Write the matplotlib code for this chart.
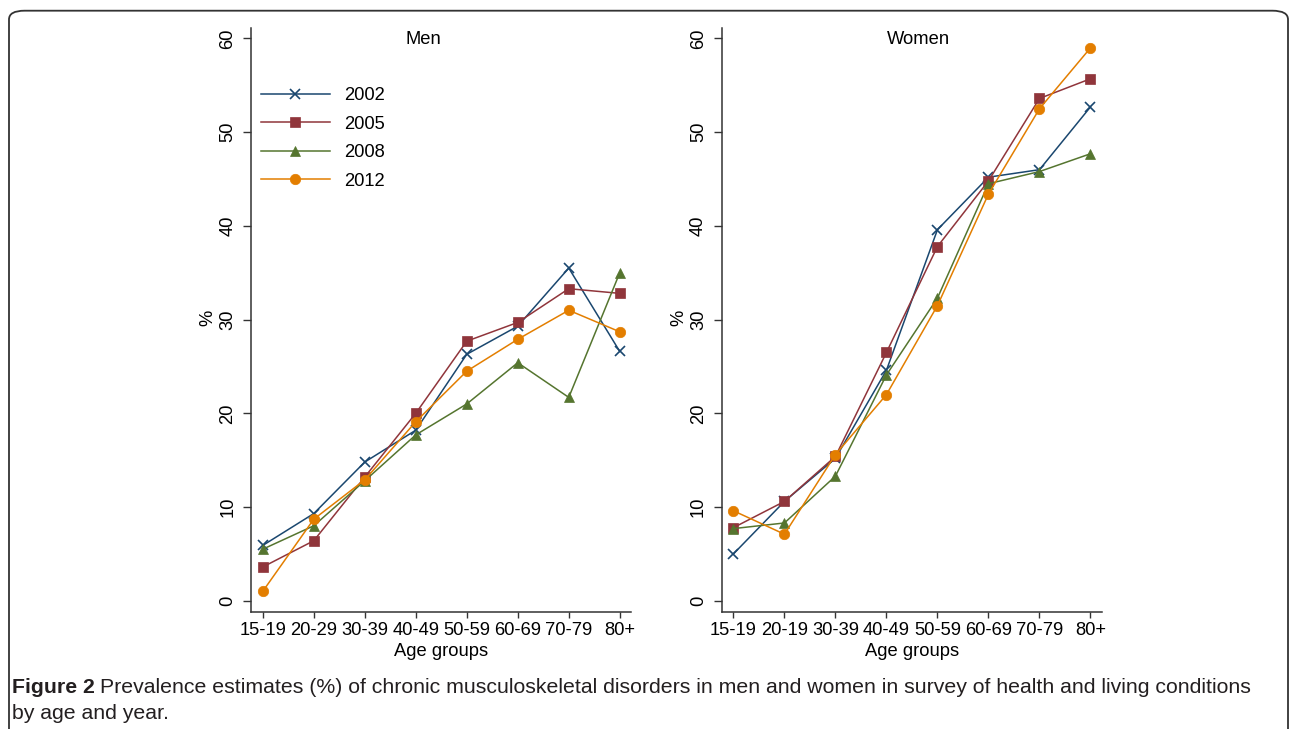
import matplotlib
matplotlib.use("Agg")
import matplotlib.pyplot as plt
from matplotlib.patches import FancyBboxPatch

plt.rcParams['font.family'] = ['Liberation Sans', 'DejaVu Sans']

# age groups (the women panel really says "20-19" in the original)
men_groups = ['15-19', '20-29', '30-39', '40-49', '50-59', '60-69', '70-79', '80+']
women_groups = ['15-19', '20-19', '30-39', '40-49', '50-59', '60-69', '70-79', '80+']
years = ['2002', '2005', '2008', '2012']

# prevalence (%)
men_2002 = [5.9, 9.3, 14.8, 18.2, 26.3, 29.3, 35.5, 26.6]
men_2005 = [3.6, 6.4, 13.2, 20.0, 27.7, 29.7, 33.3, 32.8]
men_2008 = [5.5, 8.0, 12.8, 17.7, 21.0, 25.4, 21.7, 35.0]
men_2012 = [1.0, 8.7, 12.9, 19.1, 24.5, 27.9, 31.0, 28.7]

women_2002 = [5.0, 10.6, 15.2, 24.6, 39.6, 45.2, 46.0, 52.7]
women_2005 = [7.8, 10.6, 15.4, 26.5, 37.8, 44.8, 53.6, 55.7]
women_2008 = [7.7, 8.3, 13.3, 24.1, 32.3, 44.5, 45.8, 47.7]
women_2012 = [9.6, 7.1, 15.6, 22.0, 31.5, 43.4, 52.5, 59.0]

colors = ['#1a476f', '#90353b', '#55752f', '#e37e00']
markers = ['x', 's', '^', 'o']
msizes = [7, 7, 7.5, 7.5]
FS = 13.2

W, H = 1292, 729
fig = plt.figure(figsize=(W / 100, H / 100), dpi=100)

# rounded frame around the whole figure (bottom edge runs off the image)
frame = FancyBboxPatch((9 / W, -0.05), (1288 - 9) / W, 1.05 - 10.7 / H,
                       boxstyle="round,pad=0,rounding_size=0.012",
                       transform=fig.transFigure, fill=False,
                       edgecolor='#333333', linewidth=1.3)
fig.patches.append(frame)


def panel(left, groups, series, title, title_x):
    ax = fig.add_axes([left / W, (H - 612) / H, 380 / W, (612 - 27.7) / H])
    x = list(range(len(groups)))
    lines = []
    for vals, c, m, ms, yr in zip(series, colors, markers, msizes, years):
        ln, = ax.plot(x, vals, color=c, marker=m, markersize=ms, lw=1.1,
                      markeredgewidth=1.2 if m == 'x' else 0.5,
                      markeredgecolor=c, label=yr, clip_on=False)
        lines.append(ln)
    ax.set_xlim(-0.23, 7.22)
    ax.set_ylim(-1.2, 61.15)
    ax.set_xticks(x)
    ax.set_xticklabels(groups, fontsize=FS)
    ax.set_yticks([0, 10, 20, 30, 40, 50, 60])
    ax.tick_params(axis='y', labelrotation=90, length=5.5, pad=5, labelsize=FS,
                   color='#333333', width=1)
    ax.tick_params(axis='x', length=4.5, pad=3, color='#333333', width=1)
    for lab in ax.get_yticklabels():
        lab.set_verticalalignment('center')
    for s in ['top', 'right']:
        ax.spines[s].set_visible(False)
    for s in ['left', 'bottom']:
        ax.spines[s].set_color('#333333')
        ax.spines[s].set_linewidth(1.1)
    fig.text(title_x / W, 1 - 39 / H, title, ha='center', va='center', fontsize=FS)
    fig.text((left + 190) / W, 1 - 652 / H, 'Age groups', ha='center',
             va='center', fontsize=FS)
    fig.text((left - 43) / W, 1 - 318 / H, '%', ha='center', va='center',
             rotation=90, fontsize=FS)
    return ax, lines


ax1, lines = panel(251, men_groups, [men_2002, men_2005, men_2008, men_2012],
                   'Men', 423)
ax2, _ = panel(721.7, women_groups,
               [women_2002, women_2005, women_2008, women_2012], 'Women', 918)

ax1.legend(handles=lines, loc='upper left', bbox_to_anchor=(261 / W, 1 - 87 / H),
           bbox_transform=fig.transFigure, frameon=False, fontsize=FS,
           borderpad=0, borderaxespad=0, handlelength=3.75, handletextpad=0.8,
           labelspacing=0.63)

# caption
cap_col = '#231f20'
fs = 15.3
t1 = fig.text(12 / W, 1 - 693 / H, 'Figure 2', fontsize=fs, fontweight='bold',
              color=cap_col, va='baseline')
fig.canvas.draw()
r = fig.canvas.get_renderer()
bb = t1.get_window_extent(r)
t2 = fig.text((bb.x1 + 5) / W, 1 - 693 / H,
              'Prevalence estimates (%) of chronic musculoskeletal disorders in men and '
              'women in survey of health and living conditions',
              fontsize=fs, color=cap_col, va='baseline')
fig.text(12 / W, 1 - 719 / H, 'by age and year.', fontsize=fs, color=cap_col,
         va='baseline')

fig.savefig('out.png', dpi=100)
